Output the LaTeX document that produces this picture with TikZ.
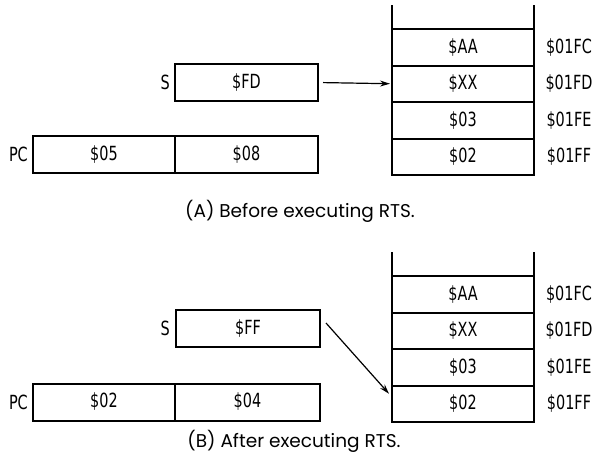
\documentclass[tikz,border=0pt]{standalone}
\usepackage{fontspec}
\setmainfont{DejaVu Sans}
\newfontfamily\labfont[FakeStretch=0.74]{DejaVu Sans}
\newfontfamily\capfont{Poppins}
\usetikzlibrary{arrows.meta,positioning}
\begin{document}
\begin{tikzpicture}[x=1pt,y=-1pt,
  reg/.style={draw,line width=2pt,outer sep=0pt,minimum height=37pt,inner sep=0pt,
    font=\labfont\fontsize{19.5}{20}\selectfont},
  cell/.style={draw,line width=2pt,outer sep=0pt,minimum width=142pt,minimum height=36.5pt,
    inner sep=0pt,font=\labfont\fontsize{19.5}{20}\selectfont},
  lab/.style={inner sep=0pt,font=\labfont\fontsize{19.5}{20}\selectfont},
  caption/.style={inner sep=0pt,font=\capfont\fontsize{18.5}{19}\selectfont},
  wall/.style={line width=2pt},
  ptr/.style={line width=1.2pt,-{Stealth[length=10pt,width=6pt]}}]
\useasboundingbox (0,0) rectangle (594,469);

% ---------- (A) before RTS ----------
\node[reg,minimum width=143pt] (sA) at (246.5,82.5) {\$FD};
\node[lab,anchor=east] (sAl) at (170,82.5) {S};
\node[reg,minimum width=142pt] (pcAh) at (104,154.5) {\$05};
\node[reg,minimum width=143pt] (pcAl) at (246.5,154.5) {\$08};
\node[lab,anchor=east] (pcAlab) at (28,154.5) {PC};

\node[cell] (a1) at (463,47.25) {\$AA};
\node[cell] (a2) at (463,83.75) {\$XX};
\node[cell] (a3) at (463,120.25) {\$03};
\node[cell] (a4) at (463,156.75) {\$02};
\draw[wall] (a1.north west) -- ++(0,-24);
\draw[wall] (a1.north east) -- ++(0,-24);
\node[lab] (a1a) at (569,47.25) {\$01FC};
\node[lab] (a2a) at (569,83.75) {\$01FD};
\node[lab] (a3a) at (569,120.25) {\$01FE};
\node[lab] (a4a) at (569,156.75) {\$01FF};

\draw[ptr,shorten <=5pt,shorten >=2pt] (sA.east) -- (a2.west);
\node[caption] (capA) at (300,211) {(A) Before executing RTS.};

% ---------- (B) after RTS ----------
\node[reg,minimum width=144pt] (sB) at (248,328.5) {\$FF};
\node[lab,anchor=east] (sBl) at (170,328.5) {S};
\node[reg,minimum width=142pt] (pcBh) at (104,402) {\$02};
\node[reg,minimum width=145pt] (pcBl) at (247.5,402) {\$04};
\node[lab,anchor=east] (pcBlab) at (28,402) {PC};

\node[cell] (b1) at (463,294.25) {\$AA};
\node[cell] (b2) at (463,330.75) {\$XX};
\node[cell] (b3) at (463,367.25) {\$03};
\node[cell] (b4) at (463,403.75) {\$02};
\draw[wall] (b1.north west) -- ++(0,-24);
\draw[wall] (b1.north east) -- ++(0,-24);
\node[lab] (b1a) at (569,294.25) {\$01FC};
\node[lab] (b2a) at (569,330.75) {\$01FD};
\node[lab] (b3a) at (569,367.25) {\$01FE};
\node[lab] (b4a) at (569,403.75) {\$01FF};

\draw[ptr] ([xshift=6pt,yshift=5.5pt]sB.east) -- ([xshift=-3pt,yshift=10pt]b4.west);
\node[caption] (capB) at (294,441) {(B) After executing RTS.};
\end{tikzpicture}
\end{document}
